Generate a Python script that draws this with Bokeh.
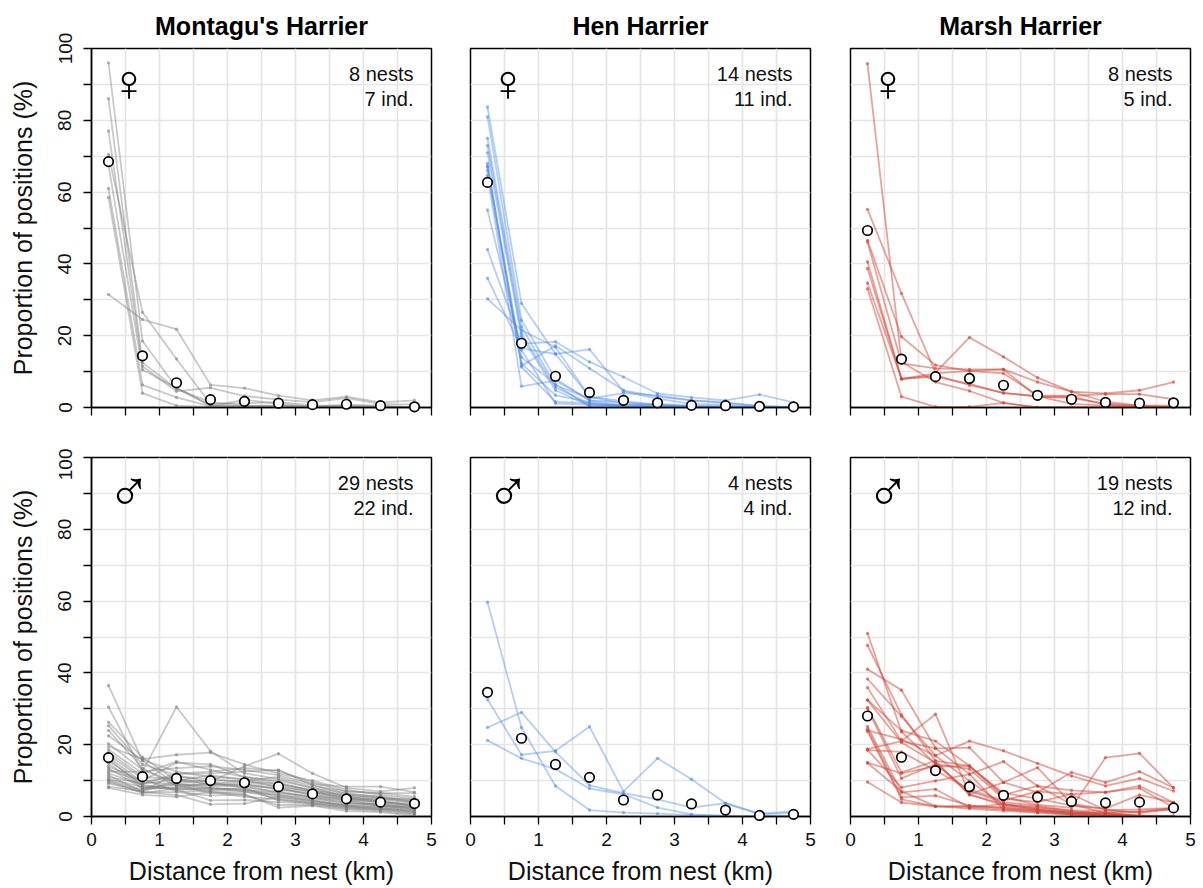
from bokeh.plotting import figure
from bokeh.layouts import column, row
from bokeh.models import FixedTicker, Label
from bokeh.embed import file_html
from bokeh.resources import INLINE

distance = [0.25, 0.75, 1.25, 1.75, 2.25, 2.75, 3.25, 3.75, 4.25, 4.75]
species = ["Montagu's Harrier", "Hen Harrier", "Marsh Harrier"]
x_ticks = [0, 1, 2, 3, 4, 5]
y_ticks = [0, 20, 40, 60, 80, 100]

montagu_f_mean = [68.5, 14.4, 6.9, 2.2, 1.7, 1.2, 0.8, 0.9, 0.5, 0.2]
montagu_f = [
    [96.0, 18.5, 5.5, 0.6, 0.3, 0.2, 0.1, 0.2, 0.1, 0.0],
    [86.0, 12.5, 5.2, 1.5, 0.5, 0.3, 0.2, 0.1, 0.0, 0.0],
    [77.0, 11.5, 4.5, 5.5, 3.2, 2.2, 1.5, 2.6, 1.0, 0.8],
    [70.5, 26.5, 13.5, 1.0, 1.2, 1.5, 0.6, 0.5, 0.3, 0.1],
    [67.5, 10.5, 5.4, 0.5, 0.4, 0.6, 0.4, 0.3, 0.2, 0.2],
    [61.0, 6.3, 2.8, 0.3, 2.2, 1.0, 0.2, 0.8, 0.5, 0.0],
    [58.5, 4.0, 0.5, 0.2, 0.2, 0.3, 0.1, 0.1, 0.0, 0.0],
    [31.5, 24.5, 21.8, 6.3, 5.4, 3.3, 2.0, 3.0, 1.4, 2.0],
]

hen_f_mean = [62.7, 17.9, 8.7, 4.2, 2.0, 1.3, 0.6, 0.5, 0.3, 0.2]
hen_f = [
    [83.7, 29.0, 14.9, 3.0, 1.0, 0.5, 0.2, 0.1, 0.0, 0.0],
    [81.0, 24.3, 8.0, 2.0, 0.5, 0.3, 0.1, 0.1, 0.0, 0.0],
    [75.0, 22.5, 6.2, 2.5, 4.0, 3.4, 2.0, 1.5, 0.3, 0.1],
    [73.0, 20.6, 5.6, 1.0, 0.3, 0.2, 0.1, 0.0, 0.0, 0.0],
    [71.0, 19.7, 4.8, 0.5, 0.8, 1.0, 0.5, 0.3, 0.1, 0.0],
    [68.0, 11.6, 17.2, 10.9, 4.8, 3.0, 2.0, 1.2, 0.5, 0.2],
    [67.3, 12.3, 3.4, 1.5, 0.2, 0.1, 0.0, 0.0, 0.0, 0.0],
    [67.0, 14.0, 6.5, 0.3, 0.1, 0.1, 0.1, 0.0, 0.0, 0.0],
    [66.0, 11.3, 1.6, 1.2, 0.6, 0.4, 0.2, 0.1, 0.1, 0.0],
    [64.7, 5.9, 7.5, 2.0, 1.5, 0.6, 0.3, 0.2, 0.0, 0.0],
    [55.0, 16.0, 1.1, 0.8, 0.2, 0.1, 0.1, 0.1, 0.0, 0.0],
    [44.0, 17.8, 18.3, 12.7, 8.5, 3.9, 2.8, 2.0, 3.6, 1.4],
    [36.0, 16.5, 14.9, 16.2, 4.5, 2.5, 1.0, 0.8, 0.2, 0.1],
    [30.3, 21.5, 16.8, 3.0, 1.8, 0.8, 0.4, 0.3, 0.1, 0.1],
]

marsh_f_mean = [49.3, 13.5, 8.6, 8.1, 6.2, 3.4, 2.3, 1.4, 1.2, 1.3]
marsh_f = [
    [95.8, 12.7, 7.1, 4.6, 1.3, 0.0, 0.0, 0.0, 0.0, 0.0],
    [55.2, 31.8, 9.7, 19.5, 14.1, 8.3, 4.4, 1.6, 0.5, 0.2],
    [46.6, 19.7, 11.8, 10.2, 9.5, 3.4, 3.2, 3.7, 3.7, 2.3],
    [46.1, 12.3, 10.9, 10.6, 10.6, 7.1, 4.4, 3.9, 4.8, 7.1],
    [40.6, 8.0, 9.5, 10.2, 10.6, 3.0, 2.7, 1.0, 0.5, 0.5],
    [38.7, 7.9, 9.0, 6.2, 4.1, 3.0, 3.0, 0.8, 0.2, 0.1],
    [34.7, 8.0, 8.6, 6.6, 4.0, 3.2, 1.0, 0.5, 0.2, 0.1],
    [33.1, 3.0, 0.2, 0.2, 1.3, 0.0, 0.0, 0.1, 0.0, 0.0],
]

montagu_m_mean = [16.4, 11.1, 10.6, 10.0, 9.4, 8.3, 6.3, 4.9, 4.0, 3.6]
montagu_m = [
    [36.5, 15.5, 9.0, 8.0, 7.5, 5.5, 4.5, 3.0, 2.5, 1.2],
    [30.5, 12.5, 30.5, 18.2, 12.0, 10.5, 8.0, 5.5, 4.2, 2.8],
    [26.3, 16.5, 10.0, 9.0, 8.5, 6.5, 5.5, 4.0, 3.0, 2.0],
    [25.3, 14.5, 11.5, 9.5, 8.0, 4.5, 3.8, 2.5, 2.0, 1.0],
    [24.0, 13.5, 8.5, 7.8, 7.5, 6.0, 5.0, 3.5, 3.5, 2.5],
    [22.5, 15.8, 12.5, 11.0, 10.5, 9.0, 7.5, 6.0, 5.5, 4.5],
    [20.3, 13.0, 9.5, 10.0, 10.0, 11.0, 8.5, 7.0, 6.5, 5.5],
    [19.5, 16.0, 17.2, 17.8, 14.5, 12.0, 10.0, 7.5, 6.0, 5.0],
    [18.7, 12.0, 15.3, 13.0, 11.0, 10.0, 8.0, 6.5, 5.5, 4.0],
    [18.0, 11.0, 10.5, 9.0, 9.0, 7.5, 6.5, 5.0, 4.0, 3.0],
    [17.2, 10.5, 7.0, 7.0, 6.0, 3.2, 3.2, 2.0, 1.5, 0.5],
    [16.5, 9.5, 9.0, 8.5, 8.5, 8.0, 6.0, 4.5, 3.5, 2.2],
    [16.0, 8.5, 7.5, 8.0, 7.0, 5.0, 4.0, 3.0, 2.5, 1.5],
    [15.5, 9.0, 12.0, 12.5, 13.5, 12.7, 9.5, 7.0, 6.5, 6.5],
    [14.8, 8.0, 8.0, 7.5, 8.0, 7.0, 5.5, 4.5, 3.0, 2.0],
    [14.0, 10.0, 15.0, 14.5, 11.0, 9.5, 7.0, 5.5, 4.5, 3.5],
    [13.5, 7.8, 8.8, 6.5, 6.8, 6.0, 4.5, 2.8, 2.2, 1.8],
    [13.0, 9.8, 11.0, 10.5, 9.5, 8.5, 6.8, 5.2, 4.8, 4.2],
    [12.5, 12.5, 13.5, 14.0, 13.0, 11.5, 9.0, 8.3, 8.3, 6.8],
    [12.0, 8.8, 7.5, 4.5, 4.6, 4.0, 3.5, 2.2, 1.8, 0.8],
    [11.5, 6.8, 6.0, 3.4, 3.6, 5.5, 4.2, 3.2, 2.8, 2.4],
    [11.0, 9.2, 10.2, 9.8, 14.0, 17.5, 12.0, 8.0, 7.0, 8.0],
    [10.5, 8.2, 9.0, 8.8, 9.0, 7.8, 6.0, 4.8, 4.0, 3.2],
    [10.2, 7.5, 8.2, 9.2, 9.8, 9.0, 7.2, 5.8, 5.0, 4.8],
    [10.0, 6.5, 7.8, 7.2, 7.2, 6.8, 5.2, 3.8, 3.2, 2.6],
    [9.5, 7.2, 11.8, 12.0, 12.5, 13.0, 8.8, 6.2, 5.2, 3.8],
    [9.2, 6.8, 6.8, 5.8, 6.2, 2.5, 3.0, 1.5, 1.2, 0.2],
    [8.3, 7.0, 10.0, 11.5, 10.2, 8.2, 7.0, 5.0, 4.2, 3.0],
    [8.0, 6.0, 5.5, 6.8, 5.5, 4.8, 3.6, 2.6, 2.0, 1.4],
]

hen_m_mean = [34.6, 21.8, 14.5, 10.9, 4.6, 6.0, 3.5, 1.8, 0.3, 0.6]
hen_m = [
    [59.7, 24.8, 8.5, 1.8, 1.1, 0.8, 0.4, 0.2, 0.1, 0.1],
    [32.6, 17.2, 18.3, 25.0, 7.0, 16.2, 10.4, 3.7, 0.8, 1.4],
    [24.8, 29.0, 18.0, 8.7, 6.5, 4.8, 2.5, 3.7, 0.6, 1.0],
    [21.2, 16.2, 13.2, 7.8, 6.2, 2.5, 0.6, 0.2, 0.0, 0.1],
]

marsh_m_mean = [28.0, 16.5, 12.8, 8.3, 5.9, 5.4, 4.2, 3.8, 4.0, 2.4]
marsh_m = [
    [51.0, 23.6, 14.6, 7.0, 4.0, 3.0, 1.5, 0.8, 0.2, 0.1],
    [47.7, 28.3, 15.5, 6.0, 3.5, 2.0, 1.0, 0.5, 0.0, 0.0],
    [41.0, 35.2, 19.0, 11.8, 15.3, 8.5, 3.4, 1.0, 0.3, 0.1],
    [38.3, 27.9, 17.0, 21.0, 18.3, 14.8, 11.3, 8.5, 10.6, 7.1],
    [35.9, 21.0, 19.0, 19.2, 9.5, 6.7, 12.3, 9.5, 12.5, 8.0],
    [32.5, 23.9, 21.0, 14.1, 5.5, 3.2, 2.5, 16.4, 17.6, 8.0],
    [32.4, 20.6, 15.0, 6.2, 9.5, 13.6, 3.6, 2.0, 1.0, 2.0],
    [30.4, 12.3, 15.5, 14.1, 6.0, 8.5, 7.3, 6.7, 8.5, 3.9],
    [30.0, 10.6, 14.6, 13.2, 5.0, 4.0, 6.2, 6.8, 7.9, 2.5],
    [25.1, 6.7, 7.6, 2.5, 3.5, 2.6, 1.2, 0.5, 0.1, 0.0],
    [24.3, 5.3, 5.8, 3.0, 2.5, 1.8, 1.0, 0.4, 0.0, 0.0],
    [23.7, 4.8, 2.8, 2.6, 2.0, 1.2, 0.6, 0.2, 0.0, 0.0],
    [24.0, 21.5, 16.9, 9.9, 3.2, 2.4, 1.8, 1.5, 1.2, 2.2],
    [18.8, 21.0, 28.5, 6.2, 3.0, 2.0, 0.8, 1.0, 1.5, 2.3],
    [18.5, 18.0, 12.8, 7.5, 4.4, 7.0, 6.2, 1.8, 2.0, 2.4],
    [15.0, 12.0, 14.0, 14.0, 6.5, 5.0, 3.0, 2.2, 6.0, 3.9],
    [14.9, 7.0, 2.9, 2.2, 1.6, 1.0, 0.5, 0.1, 0.0, 0.1],
    [18.6, 8.1, 9.9, 11.8, 2.0, 1.5, 0.7, 0.3, 0.1, 0.0],
    [9.6, 3.9, 2.8, 3.0, 2.4, 1.6, 1.3, 1.1, 0.2, 0.0],
]

panels = [
    (montagu_f, montagu_f_mean, "8 nests", "7 ind.", "\u2640"),
    (hen_f, hen_f_mean, "14 nests", "11 ind.", "\u2640"),
    (marsh_f, marsh_f_mean, "8 nests", "5 ind.", "\u2640"),
    (montagu_m, montagu_m_mean, "29 nests", "22 ind.", "\u2642"),
    (hen_m, hen_m_mean, "4 nests", "4 ind.", "\u2642"),
    (marsh_m, marsh_m_mean, "19 nests", "12 ind.", "\u2642"),
]
colors = ["#7f7f7f", "#4f8ae6", "#d2473a"]
alphas = [0.42, 0.42, 0.5]
FONT = "Liberation Sans"
lefts = [91, 29, 30]
rights = [10, 10, 10]
figs = []
for i, (series, mean, line1, line2, sym) in enumerate(panels):
    c = i % 3
    top_row = i < 3
    p = figure(
        frame_width=340, frame_height=359, output_backend="svg", toolbar_location=None,
        x_range=(0, 5), y_range=(0, 100),
        min_border_left=lefts[c], min_border_right=rights[c],
        min_border_top=48 if top_row else 9, min_border_bottom=41 if top_row else 63,
        background_fill_color="white", border_fill_color=None,
        title=species[c] if top_row else None,
    )
    if top_row:
        p.title.text_font = FONT
        p.title.text_font_size = "25px"
        p.title.text_font_style = "bold"
        p.title.align = "center"
        p.title.text_color = "black"
        p.title.offset = 0
        p.title.standoff = 18
    p.outline_line_color = "black"
    p.outline_line_width = 1.5
    p.outline_line_alpha = 1

    for g, step in ((p.xgrid, [t / 2 for t in range(0, 11)]), (p.ygrid, list(range(0, 101, 10)))):
        g.ticker = FixedTicker(ticks=step)
        g.grid_line_color = "#e5e5e5"
        g.grid_line_width = 1.7

    for ax, ticks, minor in ((p.xaxis[0], x_ticks, [t + 0.5 for t in range(5)]),
                             (p.yaxis[0], y_ticks, [t + 10 for t in range(0, 100, 20)])):
        ax.ticker = FixedTicker(ticks=ticks, minor_ticks=minor)
        ax.major_tick_out = 8
        ax.major_tick_in = 0
        ax.minor_tick_out = 8
        ax.minor_tick_in = 0
        ax.major_tick_line_color = "black"
        ax.minor_tick_line_color = "black"
        ax.major_tick_line_width = 1.3
        ax.minor_tick_line_width = 1.3
        ax.axis_line_color = "black"
        ax.axis_line_width = 1.5
        ax.major_label_text_font = FONT
        ax.major_label_text_font_size = "19px"
        ax.major_label_text_color = "#111111"
        ax.axis_label_text_font = FONT
        ax.axis_label_text_font_size = "25px"
        ax.axis_label_text_font_style = "normal"
        ax.axis_label_text_color = "#111111"

    p.yaxis[0].major_label_orientation = "vertical"
    p.yaxis[0].major_label_standoff = 12
    p.xaxis[0].major_label_standoff = 8
    p.xaxis[0].axis_label_standoff = 8
    p.yaxis[0].axis_label_standoff = 19
    if c == 0:
        p.yaxis[0].axis_label = "Proportion of positions (%)"
    else:
        p.yaxis[0].visible = False
    if top_row:
        p.xaxis[0].major_label_text_font_size = "0px"
        p.xaxis[0].major_label_text_color = None
    else:
        p.xaxis[0].axis_label = "Distance from nest (km)"

    for vals in series:
        p.line(distance, vals, line_color=colors[c], line_alpha=alphas[c], line_width=1.8)
        p.scatter(distance, vals, size=3.4, fill_color=colors[c], line_color=None, fill_alpha=alphas[c] + 0.15)
    p.scatter(distance, mean, size=9.5, fill_color="white", line_color="black", line_width=1.7, level="overlay")

    p.add_layout(Label(x=4.735, y=92.9, text=line1, text_align="right", text_baseline="middle",
                       text_font=FONT, text_font_size="20px", text_color="#111111"))
    p.add_layout(Label(x=4.735, y=85.8, text=line2, text_align="right", text_baseline="middle",
                       text_font=FONT, text_font_size="20px", text_color="#111111"))
    female = sym == "\u2640"
    p.add_layout(Label(x=0.55, y=90.4 if female else 90.9, text=sym, text_align="center", text_baseline="middle",
                       text_font=FONT, text_font_size="52px" if female else "58px", text_color="black"))
    figs.append(p)

layout = column(row(*figs[:3], spacing=0), row(*figs[3:], spacing=0), spacing=0)
open("out.html", "w").write(file_html(layout, INLINE))
